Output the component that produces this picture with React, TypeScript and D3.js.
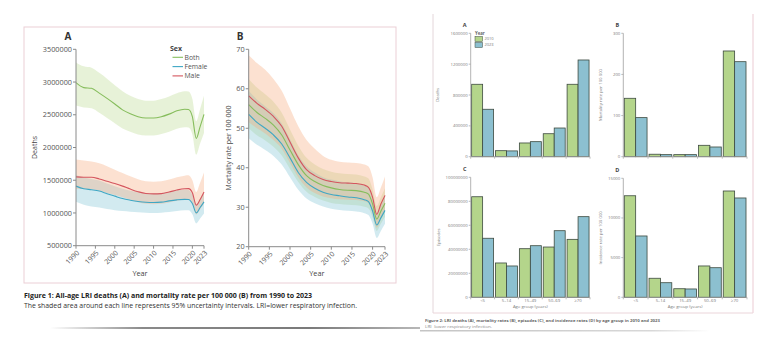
import React from "react";
import * as d3 from "d3";

// ---------- Figure 1 data (line charts with 95% UI) ----------
const years = [1990, 1992, 1994, 1996, 1998, 2000, 2002, 2004, 2006, 2008, 2010, 2012, 2014, 2016, 2018, 2019, 2020, 2021, 2022, 2023];

const deathsBoth = [2990000, 2915000, 2905000, 2830000, 2750000, 2665000, 2575000, 2515000, 2470000, 2450000, 2450000, 2470000, 2510000, 2560000, 2585000, 2580000, 2470000, 2140000, 2320000, 2505000];
const deathsBothLo = [2640000, 2610000, 2600000, 2530000, 2450000, 2370000, 2290000, 2240000, 2200000, 2185000, 2185000, 2205000, 2240000, 2285000, 2310000, 2305000, 2200000, 1890000, 2060000, 2220000];
const deathsBothHi = [3300000, 3240000, 3220000, 3140000, 3050000, 2950000, 2860000, 2790000, 2740000, 2715000, 2715000, 2740000, 2780000, 2830000, 2860000, 2855000, 2740000, 2400000, 2590000, 2790000];

const deathsMale = [1552000, 1545000, 1545000, 1520000, 1485000, 1450000, 1410000, 1365000, 1325000, 1298000, 1292000, 1295000, 1320000, 1350000, 1370000, 1372000, 1310000, 1120000, 1205000, 1320000];
const deathsMaleLo = [1370000, 1365000, 1362000, 1340000, 1305000, 1275000, 1240000, 1200000, 1165000, 1140000, 1135000, 1140000, 1160000, 1185000, 1205000, 1205000, 1150000, 975000, 1055000, 1150000];
const deathsMaleHi = [1815000, 1800000, 1785000, 1760000, 1715000, 1660000, 1610000, 1560000, 1515000, 1485000, 1478000, 1485000, 1510000, 1545000, 1570000, 1575000, 1500000, 1320000, 1460000, 1620000];

const deathsFemale = [1410000, 1370000, 1355000, 1335000, 1295000, 1257000, 1220000, 1195000, 1175000, 1163000, 1160000, 1165000, 1185000, 1200000, 1208000, 1206000, 1145000, 1001000, 1083000, 1170000];
const deathsFemaleLo = [1170000, 1125000, 1100000, 1085000, 1060000, 1043000, 1030000, 1020000, 1012000, 1003000, 1000000, 1005000, 1015000, 1030000, 1040000, 1040000, 980000, 840000, 915000, 990000];
const deathsFemaleHi = [1580000, 1540000, 1520000, 1495000, 1450000, 1410000, 1370000, 1340000, 1318000, 1305000, 1300000, 1305000, 1325000, 1345000, 1355000, 1352000, 1285000, 1130000, 1215000, 1310000];

const rateBoth = [56.0, 54.0, 52.5, 50.8, 48.3, 44.5, 40.8, 38.0, 36.5, 35.5, 34.9, 34.5, 34.3, 34.2, 33.8, 33.3, 30.8, 27.0, 29.0, 31.0];
const rateBothLo = [50.0, 48.2, 46.9, 45.3, 43.1, 39.7, 36.4, 33.9, 32.6, 31.7, 31.1, 30.8, 30.6, 30.5, 30.1, 29.7, 27.4, 24.0, 25.8, 27.6];
const rateBothHi = [62.5, 60.3, 58.6, 56.7, 53.9, 49.7, 45.6, 42.5, 40.8, 39.7, 39.0, 38.6, 38.4, 38.3, 37.8, 37.3, 34.5, 30.3, 32.5, 34.8];

const rateMale = [58.2, 56.3, 54.8, 53.0, 50.5, 46.5, 42.5, 39.5, 38.0, 37.0, 36.5, 36.2, 36.1, 36.0, 35.6, 35.0, 32.5, 28.2, 30.8, 33.0];
const rateMaleLo = [51.5, 50.0, 48.7, 47.0, 44.8, 41.2, 37.6, 35.0, 33.6, 32.7, 32.3, 32.0, 31.9, 31.8, 31.5, 31.0, 28.6, 24.8, 27.0, 29.0];
const rateMaleHi = [68.5, 66.5, 64.8, 62.5, 59.5, 55.0, 50.5, 47.0, 44.8, 43.0, 42.0, 41.5, 41.3, 41.2, 40.8, 40.3, 37.5, 32.5, 35.0, 37.8];

const rateFemale = [53.5, 51.5, 50.0, 48.3, 46.0, 42.5, 38.8, 36.3, 34.8, 33.8, 33.2, 32.9, 32.6, 32.4, 31.9, 31.4, 29.0, 25.5, 27.3, 29.2];
const rateFemaleLo = [47.5, 45.8, 44.5, 43.0, 40.8, 37.6, 34.4, 32.2, 31.0, 30.2, 29.6, 29.3, 29.1, 28.9, 28.5, 28.0, 25.8, 22.2, 24.0, 25.8];
const rateFemaleHi = [59.5, 57.3, 55.6, 53.8, 51.2, 47.3, 43.2, 40.4, 38.8, 37.6, 37.0, 36.6, 36.3, 36.1, 35.5, 35.0, 32.3, 28.5, 30.5, 32.6];

const sexes = ["Both", "Female", "Male"];
const yearTicks = [1990, 1995, 2000, 2005, 2010, 2015, 2020, 2023];
const deathTicks = [500000, 1000000, 1500000, 2000000, 2500000, 3000000, 3500000];
const rateTicks = [20, 30, 40, 50, 60, 70];

// ---------- Figure 2 data (bars by age group) ----------
const ageGroups = ["<5", "5–14", "15–49", "50–69", "≥70"];
const barYears = ["2010", "2023"];
const deaths2010 = [939000, 78000, 178000, 298000, 939000];
const deaths2023 = [615000, 75000, 195000, 372000, 1254000];
const mort2010 = [142, 6, 5, 27.7, 257];
const mort2023 = [95, 5, 5, 23.6, 231];
const episodes2010 = [83800000, 28600000, 40500000, 41900000, 48300000];
const episodes2023 = [49200000, 26100000, 43000000, 55500000, 67200000];
const incid2010 = [12800, 2400, 1080, 3950, 13400];
const incid2023 = [7730, 1840, 1050, 3730, 12520];
const deathsBarTicks = [0, 400000, 800000, 1200000, 1600000];
const mortBarTicks = [0, 100, 200, 300];
const episodesTicks = [0, 20000000, 40000000, 60000000, 80000000, 100000000];
const incidTicks = [0, 5000, 10000, 15000];

// ---------- styles ----------
const FONT = "'Open Sans', 'Noto Sans', sans-serif";
const LINE_COLORS: Record<string, string> = { Both: "#86bd5c", Female: "#3fa7c4", Male: "#d4555e" };
const BAND_COLORS: Record<string, string> = { Both: "#b9d98f", Female: "#7fc3d4", Male: "#f5a87a" };
const BAR_COLORS = ["#b4d58b", "#8cc0d0"];

type Series = { name: string; mean: number[]; lo: number[]; hi: number[] };

function LinePanel(props: {
  xr: [number, number];
  yr: [number, number];
  ydomain: [number, number];
  yticks: number[];
  series: Series[];
  letter: string;
  letterX: number;
  ylabel: string;
  ylabelX: number;
  legend?: boolean;
}) {
  const { xr, yr, ydomain, yticks, series, letter, letterX, ylabel, ylabelX, legend } = props;
  const x = d3.scaleLinear().domain([1990, 2023]).range(xr);
  const y = d3.scaleLinear().domain(ydomain).range(yr);
  type P = { year: number; mean: number; lo: number; hi: number };
  const area = d3
    .area<P>()
    .x((d) => x(d.year))
    .y0((d) => y(d.lo))
    .y1((d) => y(d.hi))
    .curve(d3.curveMonotoneX);
  const line = d3
    .line<P>()
    .x((d) => x(d.year))
    .y((d) => y(d.mean))
    .curve(d3.curveMonotoneX);
  const pts = series.map((s) => ({
    name: s.name,
    p: years.map((yy, i) => ({ year: yy, mean: s.mean[i], lo: s.lo[i], hi: s.hi[i] })),
  }));
  const axisY = y(ydomain[0]);
  const x0 = xr[0];
  const axisColor = "#8a8a8a";
  return (
    <g>
      {pts.map((s) => (
        <path key={"b" + s.name} d={area(s.p) || ""} fill={BAND_COLORS[s.name]} fillOpacity={0.35} />
      ))}
      {pts.map((s) => (
        <path key={"l" + s.name} d={line(s.p) || ""} fill="none" stroke={LINE_COLORS[s.name]} strokeWidth={1.1} />
      ))}
      {/* y axis */}
      <line x1={x0} x2={x0} y1={y(ydomain[1])} y2={axisY} stroke={axisColor} strokeWidth={1} />
      {yticks.map((t) => (
        <g key={"yt" + t}>
          <line x1={x0 - 3} x2={x0} y1={y(t)} y2={y(t)} stroke={axisColor} />
          <text x={x0 - 4} y={y(t)} dy="0.35em" textAnchor="end" fontSize={7.3} fill="#555" fontFamily={FONT}>
            {String(t)}
          </text>
        </g>
      ))}
      {/* x axis */}
      <line x1={x0} x2={xr[1]} y1={axisY} y2={axisY} stroke={axisColor} strokeWidth={1} />
      {yearTicks.map((t) => (
        <g key={"xt" + t}>
          <line x1={x(t)} x2={x(t)} y1={axisY} y2={axisY + 3} stroke={axisColor} />
          <text
            transform={`translate(${x(t) + 2},${axisY + 6}) rotate(-45)`}
            textAnchor="end"
            dy="0.35em"
            fontSize={7}
            fill="#555"
            fontFamily={FONT}
          >
            {String(t)}
          </text>
        </g>
      ))}
      <text x={(xr[0] + xr[1]) / 2} y={276} textAnchor="middle" fontSize={7.3} fill="#444" fontFamily={FONT}>
        Year
      </text>
      <text
        transform={`translate(${ylabelX},${(yr[0] + yr[1]) / 2}) rotate(-90)`}
        textAnchor="middle"
        fontSize={7}
        fill="#444"
        fontFamily={FONT}
      >
        {ylabel}
      </text>
      <text x={letterX} y={40} textAnchor="middle" fontSize={10} fontWeight="bold" fill="#333" fontFamily={FONT}>
        {letter}
      </text>
      {legend && (
        <g fontFamily={FONT}>
          <text x={170} y={51} fontSize={7} fontWeight="bold" fill="#444">
            Sex
          </text>
          {sexes.map((s, i) => (
            <g key={s}>
              <line x1={172.5} x2={183} y1={57.3 + i * 9.3} y2={57.3 + i * 9.3} stroke={LINE_COLORS[s]} strokeWidth={1.1} />
              <text x={184.5} y={57.3 + i * 9.3} dy="0.35em" fontSize={6.8} fill="#555">
                {s}
              </text>
            </g>
          ))}
        </g>
      )}
    </g>
  );
}

function BarPanel(props: {
  xr: [number, number];
  yr: [number, number];
  max: number;
  ticks: number[];
  a: number[];
  b: number[];
  letter: string;
  ylabel: string;
  ylabelX: number;
  showX?: boolean;
  legend?: boolean;
}) {
  const { xr, yr, max, ticks, a, b, letter, ylabel, ylabelX, showX, legend } = props;
  const x = d3.scaleBand<string>().domain(ageGroups).range(xr).paddingInner(0.08).paddingOuter(0.04);
  const xi = d3.scaleBand<string>().domain(barYears).range([0, x.bandwidth()]).padding(0);
  const y = d3.scaleLinear().domain([0, max]).range(yr);
  const axisColor = "#a0a0a0";
  const x0 = xr[0];
  const base = y(0);
  const bounds = d3.range(ageGroups.length + 1).map((i) => xr[0] + i * x.step());
  return (
    <g fontFamily={FONT}>
      {ageGroups.map((g, gi) =>
        [a, b].map((vals, k) => (
          <rect
            key={g + k}
            x={(x(g) || 0) + (xi(barYears[k]) || 0)}
            y={y(vals[gi])}
            width={xi.bandwidth()}
            height={base - y(vals[gi])}
            fill={BAR_COLORS[k]}
            stroke="#3d4a3f"
            strokeWidth={0.8}
          />
        ))
      )}
      <line x1={x0} x2={x0} y1={y(max)} y2={base} stroke={axisColor} strokeWidth={0.8} />
      {ticks.map((t) => (
        <g key={"t" + t}>
          <line x1={x0 - 2} x2={x0} y1={y(t)} y2={y(t)} stroke={axisColor} strokeWidth={0.7} />
          <text x={x0 - 3} y={y(t)} dy="0.35em" textAnchor="end" fontSize={4.3} fill="#777">
            {String(t)}
          </text>
        </g>
      ))}
      <line x1={x0} x2={xr[1]} y1={base} y2={base} stroke={axisColor} strokeWidth={0.8} />
      {bounds.map((bx, i) => (
        <line key={"b" + i} x1={bx} x2={bx} y1={base} y2={base + 2} stroke={axisColor} strokeWidth={0.7} />
      ))}
      {showX &&
        ageGroups.map((g) => (
          <text
            key={"xl" + g}
            x={(x(g) || 0) + x.bandwidth() / 2}
            y={base + 5}
            textAnchor="middle"
            fontSize={4.3}
            fill="#777"
          >
            {g}
          </text>
        ))}
      {showX && (
        <text x={(xr[0] + xr[1]) / 2} y={base + 11} textAnchor="middle" fontSize={4.3} fill="#777">
          Age group (years)
        </text>
      )}
      <text
        transform={`translate(${ylabelX},${(yr[0] + yr[1]) / 2}) rotate(-90)`}
        textAnchor="middle"
        fontSize={4.3}
        fill="#777"
      >
        {ylabel}
      </text>
      <text x={x0 - 6} y={yr[1] - 6} textAnchor="middle" fontSize={5.5} fontWeight="bold" fill="#444">
        {letter}
      </text>
      {legend && (
        <g>
          <text x={475} y={35} fontSize={4.3} fontWeight="bold" fill="#666">
            Year
          </text>
          {barYears.map((yy, i) => (
            <g key={yy}>
              <rect x={475} y={36.5 + i * 6} width={7.5} height={5} fill={BAR_COLORS[i]} stroke="#3d4a3f" strokeWidth={0.5} />
              <text x={484.5} y={39 + i * 6} dy="0.35em" fontSize={4} fill="#777">
                {yy}
              </text>
            </g>
          ))}
        </g>
      )}
    </g>
  );
}

export default function App() {
  const deathSeries: Series[] = [
    { name: "Both", mean: deathsBoth, lo: deathsBothLo, hi: deathsBothHi },
    { name: "Female", mean: deathsFemale, lo: deathsFemaleLo, hi: deathsFemaleHi },
    { name: "Male", mean: deathsMale, lo: deathsMaleLo, hi: deathsMaleHi },
  ];
  const rateSeries: Series[] = [
    { name: "Both", mean: rateBoth, lo: rateBothLo, hi: rateBothHi },
    { name: "Female", mean: rateFemale, lo: rateFemaleLo, hi: rateFemaleHi },
    { name: "Male", mean: rateMale, lo: rateMaleLo, hi: rateMaleHi },
  ];
  return (
    <div style={{ position: "absolute", left: 0, top: 0 }}>
      <svg width={764} height={342} style={{ display: "block", background: "#ffffff" }}>
        <defs>
          <linearGradient id="shadowL" x1="0" x2="1" y1="0" y2="0">
            <stop offset="0" stopColor="#ffffff" />
            <stop offset="0.25" stopColor="#8a8a8a" />
            <stop offset="0.7" stopColor="#7a7a7a" />
            <stop offset="1" stopColor="#b8b8b8" />
          </linearGradient>
          <linearGradient id="shadowR" x1="0" x2="1" y1="0" y2="0">
            <stop offset="0" stopColor="#c4c4c4" />
            <stop offset="0.8" stopColor="#d8d8d8" />
            <stop offset="1" stopColor="#ffffff" />
          </linearGradient>
        </defs>

        {/* ---------- Figure 1 ---------- */}
        <rect x={24} y={27} width={372} height={256} fill="none" stroke="#ebcfd6" strokeWidth={1} />
        <LinePanel
          xr={[76, 204]}
          yr={[245.7, 49.3]}
          ydomain={[500000, 3500000]}
          yticks={deathTicks}
          series={deathSeries}
          letter="A"
          letterX={68}
          ylabel="Deaths"
          ylabelX={37}
          legend
        />
        <LinePanel
          xr={[248.7, 385]}
          yr={[246.7, 49.3]}
          ydomain={[20, 70]}
          yticks={rateTicks}
          series={rateSeries}
          letter="B"
          letterX={240}
          ylabel="Mortality rate per 100 000"
          ylabelX={231}
        />
        <text x={24} y={297.5} fontSize={7} fontWeight="bold" fill="#222" fontFamily={FONT} textLength={288} lengthAdjust="spacingAndGlyphs">
          Figure 1: All-age LRI deaths (A) and mortality rate per 100 000 (B) from 1990 to 2023
        </text>
        <text x={24} y={307.5} fontSize={6.8} fill="#333" fontFamily={FONT} textLength={333} lengthAdjust="spacingAndGlyphs">
          The shaded area around each line represents 95% uncertainty intervals. LRI=lower respiratory infection.
        </text>
        <rect x={50} y={327} width={370} height={2} fill="url(#shadowL)" />

        {/* ---------- Figure 2 ---------- */}
        <line x1={433} x2={433} y1={14} y2={313} stroke="#e4d6da" strokeWidth={1} />
        <line x1={753} x2={753} y1={14} y2={313} stroke="#ebcbd3" strokeWidth={1} />
        <line x1={433} x2={753} y1={313} y2={313} stroke="#ebd5da" strokeWidth={1} />
        <BarPanel
          xr={[470.7, 590]}
          yr={[156.7, 33.3]}
          max={1600000}
          ticks={deathsBarTicks}
          a={deaths2010}
          b={deaths2023}
          letter="A"
          ylabel="Deaths"
          ylabelX={439}
          legend
        />
        <BarPanel
          xr={[623.3, 747]}
          yr={[156.7, 33.3]}
          max={300}
          ticks={mortBarTicks}
          a={mort2010}
          b={mort2023}
          letter="B"
          ylabel="Mortality rate per 100 000"
          ylabelX={602}
        />
        <BarPanel
          xr={[470.7, 590]}
          yr={[297.3, 177.3]}
          max={100000000}
          ticks={episodesTicks}
          a={episodes2010}
          b={episodes2023}
          letter="C"
          ylabel="Episodes"
          ylabelX={440}
          showX
        />
        <BarPanel
          xr={[623.3, 747]}
          yr={[297.3, 178.3]}
          max={15000}
          ticks={incidTicks}
          a={incid2010}
          b={incid2023}
          letter="D"
          ylabel="Incidence rate per 100 000"
          ylabelX={602}
          showX
        />
        <text x={425} y={322} fontSize={4} fontWeight="bold" fill="#666" fontFamily={FONT} textLength={235} lengthAdjust="spacingAndGlyphs">
          Figure 2: LRI deaths (A), mortality rates (B), episodes (C), and incidence rates (D) by age group in 2010 and 2023
        </text>
        <text x={425} y={328} fontSize={3.8} fill="#888" fontFamily={FONT} textLength={67} lengthAdjust="spacingAndGlyphs">
          LRI=lower respiratory infection.
        </text>
        <rect x={420} y={330} width={290} height={1.5} fill="url(#shadowR)" />
      </svg>
    </div>
  );
}
